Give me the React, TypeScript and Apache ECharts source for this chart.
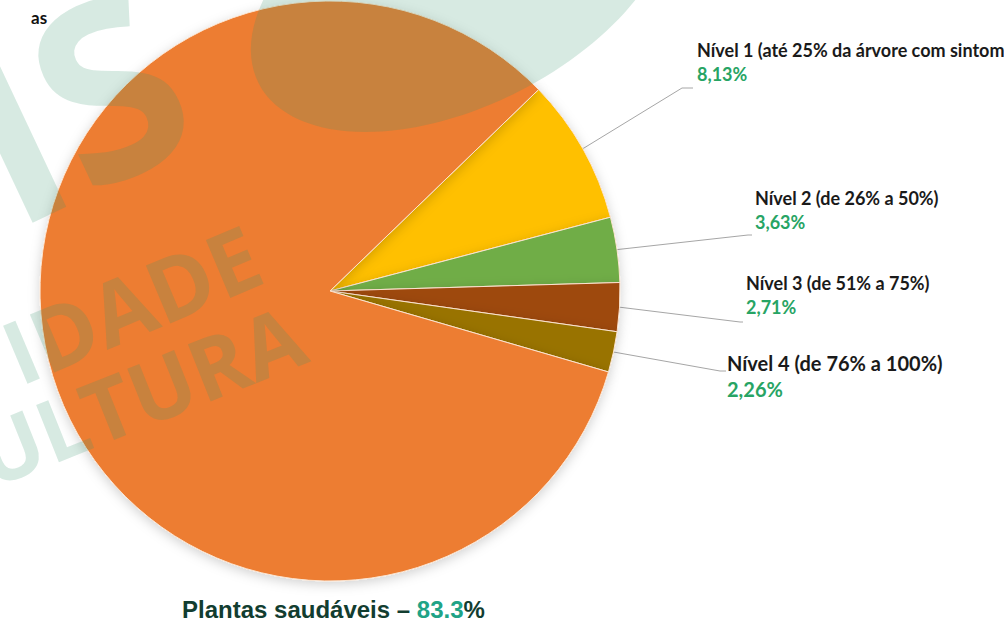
import React, { useEffect, useRef } from 'react';
import * as echarts from 'echarts';

const categories = [
  'Nível 1 (até 25% da árvore com sintomas)',
  'Nível 2 (de 26% a 50%)',
  'Nível 3 (de 51% a 75%)',
  'Nível 4 (de 76% a 100%)',
  'Plantas saudáveis',
];
const values = [8.13, 3.63, 2.71, 2.26, 83.3];
const colors = ['#FFC000', '#70AD47', '#9E480E', '#997300', '#ED7D31'];
const headerFragment = 'as';
const watermarkWords = ['IS', 'IDADE', 'ULTURA'];

const WM = 'rgba(55,150,110,0.2)';

// label placement (layout only)
const labelLayouts = [
  { x: 697, y: 38, line: [[682, 88], [693, 88]] },
  { x: 755, y: 186, line: [[748, 235], [752, 235]] },
  { x: 746, y: 271, line: [[740, 322], [743, 322]] },
  { x: 727, y: 350, line: [[720, 371], [726, 371]] },
  { x: 182, y: 609, line: null },
];

const fmtComma = (v: number) => v.toFixed(2).replace('.', ',') + '%';

export default function App() {
  const ref = useRef<HTMLDivElement>(null);
  useEffect(() => {
    if (!ref.current) return;
    const chart = echarts.init(ref.current, undefined, { renderer: 'svg' });
    const data = categories.map((name, i) => ({
      name,
      value: values[i],
      itemStyle: { color: colors[i] },
      labelLine: { show: i < 4 },
    }));
    chart.setOption({
      animation: false,
      backgroundColor: '#ffffff',
      title: {
        text: headerFragment,
        left: 26,
        top: 4,
        textStyle: { fontFamily: 'Lato', fontWeight: 'bold', fontSize: 17, color: '#111' },
      },
      graphic: [
        {
          type: 'text', x: 70, y: 100, rotation: 0.44, z: 100, silent: true,
          style: { text: watermarkWords[0], font: 'bold 245px "Open Sans"', fill: WM, align: 'center', verticalAlign: 'middle' },
        },
        {
          type: 'ellipse', x: 462, y: -20, rotation: 0.47, z: 100, silent: true,
          shape: { cx: 0, cy: 0, rx: 228, ry: 125 },
          style: { fill: WM },
        },
        {
          type: 'text', x: 131, y: 303, rotation: 0.4, z: 100, silent: true,
          style: { text: watermarkWords[1], font: 'bold 88px "Open Sans"', fill: WM, align: 'center', verticalAlign: 'middle' },
        },
        {
          type: 'text', x: 139, y: 394, rotation: 0.38, z: 100, silent: true,
          style: { text: watermarkWords[2], font: 'bold 86px "Open Sans"', fill: WM, align: 'center', verticalAlign: 'middle' },
        },
      ],
      series: [
        {
          type: 'pie',
          center: [330, 291],
          radius: 290,
          startAngle: 44,
          clockwise: true,
          avoidLabelOverlap: false,
          data,
          itemStyle: {
            borderColor: '#fbe3cf',
            borderWidth: 1,
            shadowBlur: 12,
            shadowColor: 'rgba(0,0,0,0.18)',
            shadowOffsetY: 3,
          },
          label: {
            show: true,
            position: 'outside',
            formatter: (p: any) => {
              const i = p.dataIndex;
              if (i === 4) return `{d|${p.name} – }{g|${values[i].toFixed(1)}}{d|%}`;
              const s = i === 3 ? '4' : '';
              return `{t${s}|${p.name}}\n{v${s}|${fmtComma(p.value)}}`;
            },
            rich: {
              t: { fontFamily: 'Lato', fontWeight: 'bold', fontSize: 18, color: '#1a1a1a', lineHeight: 24 },
              v: { fontFamily: 'Lato', fontWeight: 'bold', fontSize: 18, color: '#27a464', lineHeight: 24 },
              t4: { fontFamily: 'Lato', fontWeight: 'bold', fontSize: 20, color: '#1a1a1a', lineHeight: 26 },
              v4: { fontFamily: 'Lato', fontWeight: 'bold', fontSize: 20, color: '#27a464', lineHeight: 26 },
              d: { fontFamily: 'Liberation Sans', fontWeight: 'bold', fontSize: 24, color: '#123d30' },
              g: { fontFamily: 'Liberation Sans', fontWeight: 'bold', fontSize: 24, color: '#20a386' },
            },
          },
          labelLine: {
            show: true,
            length: 40,
            length2: 10,
            lineStyle: { color: '#a6a6a6', width: 1 },
          },
          labelLayout: (params: any) => {
            const L = labelLayouts[params.dataIndex];
            const out: any = {
              x: L.x,
              y: L.y,
              align: 'left',
              verticalAlign: params.dataIndex === 4 ? 'middle' : 'top',
            };
            if (L.line && params.labelLinePoints) {
              out.labelLinePoints = [params.labelLinePoints[0], ...L.line];
            }
            return out;
          },
        },
      ],
    });
    return () => chart.dispose();
  }, []);
  return (
    <div
      ref={ref}
      style={{ position: 'absolute', left: 0, top: 0, width: 1004, height: 623 }}
    />
  );
}
